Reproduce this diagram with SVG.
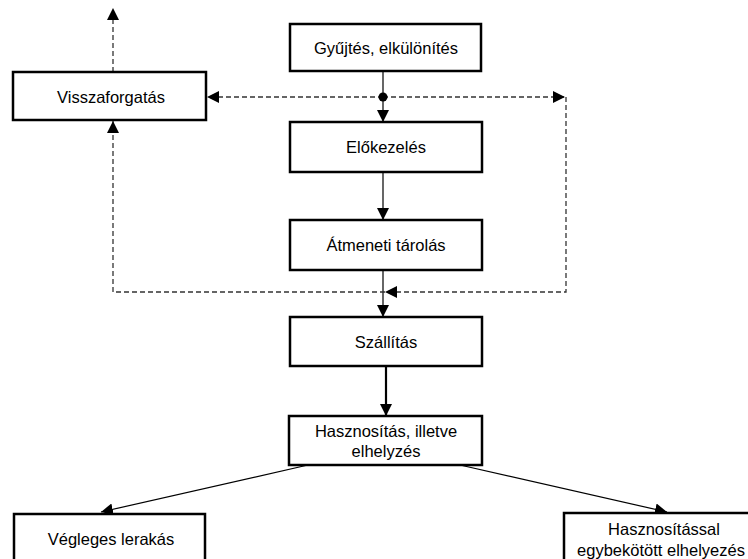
<svg xmlns="http://www.w3.org/2000/svg" width="748" height="559" viewBox="0 0 748 559">
  <style>
    .box { fill: #ffffff; stroke: #000000; stroke-width: 2.5; }
    .lbl { font-family: "Liberation Sans", Arial, sans-serif; font-size: 16.5px; fill: #000000; text-anchor: middle; }
    .flow { fill: none; stroke: #000000; stroke-width: 1.2; }
    .flow-thick { fill: none; stroke: #000000; stroke-width: 2.2; }
    .back { fill: none; stroke: #333333; stroke-width: 1.3; stroke-dasharray: 5 3; }
  </style>
  <defs>
    <marker id="arrow" viewBox="0 0 12 12" refX="12" refY="6" markerWidth="12" markerHeight="12" markerUnits="userSpaceOnUse" orient="auto">
      <path d="M0,0 L12,6 L0,12 Z" fill="#000000"/>
    </marker>
  </defs>

  <!-- connectors -->
  <g id="connectors">
    <line class="flow" x1="383" y1="71" x2="383" y2="122" marker-end="url(#arrow)"/>
    <line class="flow" x1="383" y1="172" x2="383" y2="220" marker-end="url(#arrow)"/>
    <line class="flow" x1="383" y1="270" x2="383" y2="317" marker-end="url(#arrow)"/>
    <line class="flow-thick" x1="386" y1="366" x2="386" y2="416" marker-end="url(#arrow)"/>
    <line class="flow" x1="308" y1="465" x2="101" y2="512" marker-end="url(#arrow)"/>
    <line class="flow" x1="460" y1="465" x2="667" y2="512" marker-end="url(#arrow)"/>

    <!-- recycling loop (dashed) -->
    <line class="back" x1="113" y1="72" x2="113" y2="8" marker-end="url(#arrow)"/>
    <line class="back" x1="383" y1="97" x2="207" y2="97" marker-end="url(#arrow)"/>
    <line class="back" x1="383" y1="97" x2="565" y2="97" marker-end="url(#arrow)"/>
    <path class="back" d="M566,97 L566,292 L385,292" marker-end="url(#arrow)"/>
    <path class="back" d="M385,292 L113,292 L113,121" marker-end="url(#arrow)"/>
    <circle cx="383" cy="97" r="4.5" fill="#000000"/>
  </g>

  <g id="gyujtes">
    <rect class="box" x="290" y="24" width="191" height="47"/>
    <text class="lbl" x="386" y="54">Gyűjtés, elkülönítés</text>
  </g>

  <g id="visszaforgatas">
    <rect class="box" x="13" y="72" width="193" height="48"/>
    <text class="lbl" x="111" y="103">Visszaforgatás</text>
  </g>

  <g id="elokezeles">
    <rect class="box" x="290" y="122" width="192" height="50"/>
    <text class="lbl" x="386" y="153">Előkezelés</text>
  </g>

  <g id="atmeneti-tarolas">
    <rect class="box" x="290" y="220" width="192" height="50"/>
    <text class="lbl" x="386" y="251">Átmeneti tárolás</text>
  </g>

  <g id="szallitas">
    <rect class="box" x="290" y="317" width="192" height="49"/>
    <text class="lbl" x="386" y="348">Szállítás</text>
  </g>

  <g id="hasznositas">
    <rect class="box" x="289" y="416" width="193" height="49"/>
    <text class="lbl" x="386" y="437">Hasznosítás, illetve</text>
    <text class="lbl" x="386" y="457">elhelyzés</text>
  </g>

  <g id="vegleges-lerakas">
    <rect class="box" x="14" y="514" width="191" height="60"/>
    <text class="lbl" x="111" y="545">Végleges lerakás</text>
  </g>

  <g id="hasznositassal-elhelyezes">
    <rect class="box" x="564" y="513" width="190" height="60"/>
    <text class="lbl" x="664" y="535">Hasznosítással</text>
    <text class="lbl" x="661" y="556">egybekötött elhelyezés</text>
  </g>
</svg>
